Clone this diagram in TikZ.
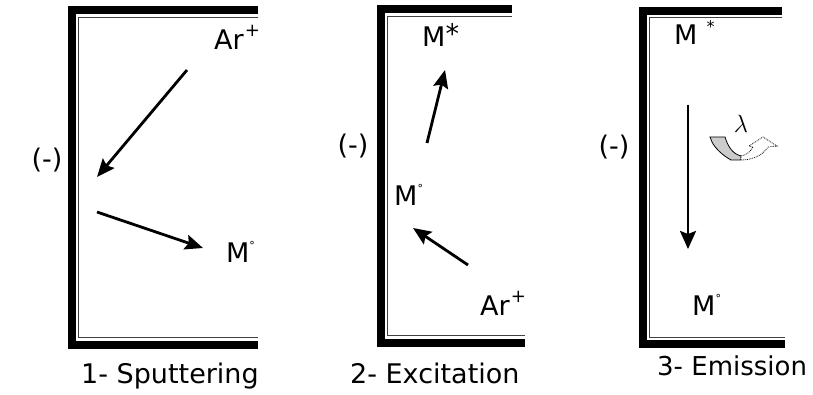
\documentclass[tikz,border=0pt]{standalone}
\usepackage{fontspec}
\setmainfont{DejaVu Sans}
\usetikzlibrary{arrows.meta}
\begin{document}
\begin{tikzpicture}[x=1pt,y=-1pt,
  lbl/.style={inner sep=0pt, anchor=base west, font=\fontsize{27}{30}\selectfont},
  neg/.style={inner sep=0pt, anchor=center, font=\fontsize{27}{30}\selectfont},
  thickbar/.style={line width=8pt, miter limit=10},
  thinbar/.style={line width=1.4pt, black!75},
  ray/.style={line width=2.8pt, -{Stealth[length=18pt,width=15pt,inset=3pt]}},
  fall/.style={line width=2.4pt, -{Stealth[length=18pt,width=16pt,inset=3pt]}},
]
\useasboundingbox (0,0) rectangle (813,395);
% ---------- panel 1
\draw[thickbar] (258,10.5) -- (72,10.5) -- (72,344.5) -- (258,344.5);
\draw[thinbar] (258,17.25) -- (78.75,17.25) -- (78.75,337.75) -- (258,337.75);
\node[neg] (n1) at (47,160) {(-)};
\node[lbl] (ar1) at (214,50) {Ar\hspace{1pt}\raisebox{13pt}{\fontsize{18}{18}\selectfont +}};
\node[lbl] (m1) at (226,262) {M\raisebox{13pt}{\fontsize{11}{11}\selectfont °}};
\node[lbl] (c1) at (81,383) {1- Sputtering};
\coordinate (a1s) at (187,70);
\coordinate (a1e) at (97,177);
\coordinate (b1s) at (97,212);
\coordinate (b1e) at (203,248);
\draw[ray] (a1s) -- (a1e);
\draw[ray] (b1s) -- (b1e);
% ---------- panel 2
\draw[thickbar] (512,9.5) -- (381,9.5) -- (381,342.5) -- (525,342.5);
\draw[thinbar] (512,16.25) -- (387.75,16.25) -- (387.75,335.75) -- (525,335.75);
\node[neg] (n2) at (353,146) {(-)};
\node[lbl] (ms2) at (422,47) {M\raisebox{3pt}{*}};
\node[lbl] (m2) at (394,206) {M\raisebox{13pt}{\fontsize{11}{11}\selectfont °}};
\node[lbl] (ar2) at (480,315) {Ar\hspace{1pt}\raisebox{13pt}{\fontsize{18}{18}\selectfont +}};
\node[lbl] (c2) at (350,383) {2- Excitation};
\coordinate (a2s) at (427,143);
\coordinate (a2e) at (445,70);
\coordinate (b2s) at (468,265);
\coordinate (b2e) at (413,228);
\draw[ray] (a2s) -- (a2e);
\draw[ray] (b2s) -- (b2e);
% ---------- panel 3
\draw[thickbar] (782,11) -- (642.5,11) -- (642.5,344) -- (785,344);
\draw[thinbar] (782,17.75) -- (649.25,17.75) -- (649.25,337.25) -- (785,337.25);
\node[neg] (n3) at (614,147) {(-)};
\node[lbl] (ms3) at (674,45) {M\hspace{9pt}\raisebox{12pt}{\fontsize{16}{16}\selectfont *}};
\node[lbl] (m3) at (692,315) {M\raisebox{13pt}{\fontsize{11}{11}\selectfont °}};
\node[lbl, font=\fontsize{26}{30}\selectfont] (c3) at (657,375) {3- Emission};
\node[inner sep=0pt, font=\fontsize{28}{28}\selectfont] (lam) at (741,124) {$\lambda$};
\coordinate (a3s) at (688,105);
\coordinate (a3e) at (688,249);
\draw[fall] (a3s) -- (a3e);
% photon icon
\filldraw[fill=black!20, draw=black, line width=0.8pt]
  (710,137) -- (725,137) .. controls (728,147) and (733,154) .. (741,156)
  -- (741,160) -- (731,160) .. controls (722,155) and (715,148) .. (712,142) -- cycle;
\filldraw[fill=white, draw=black, line width=0.8pt, densely dotted]
  (741,156) .. controls (747,155) and (751,151) .. (753,147) -- (749,146)
  -- (763,137) -- (777,146) -- (768,147) .. controls (763,155) and (753,160) .. (741,160) -- cycle;
\end{tikzpicture}
\end{document}
